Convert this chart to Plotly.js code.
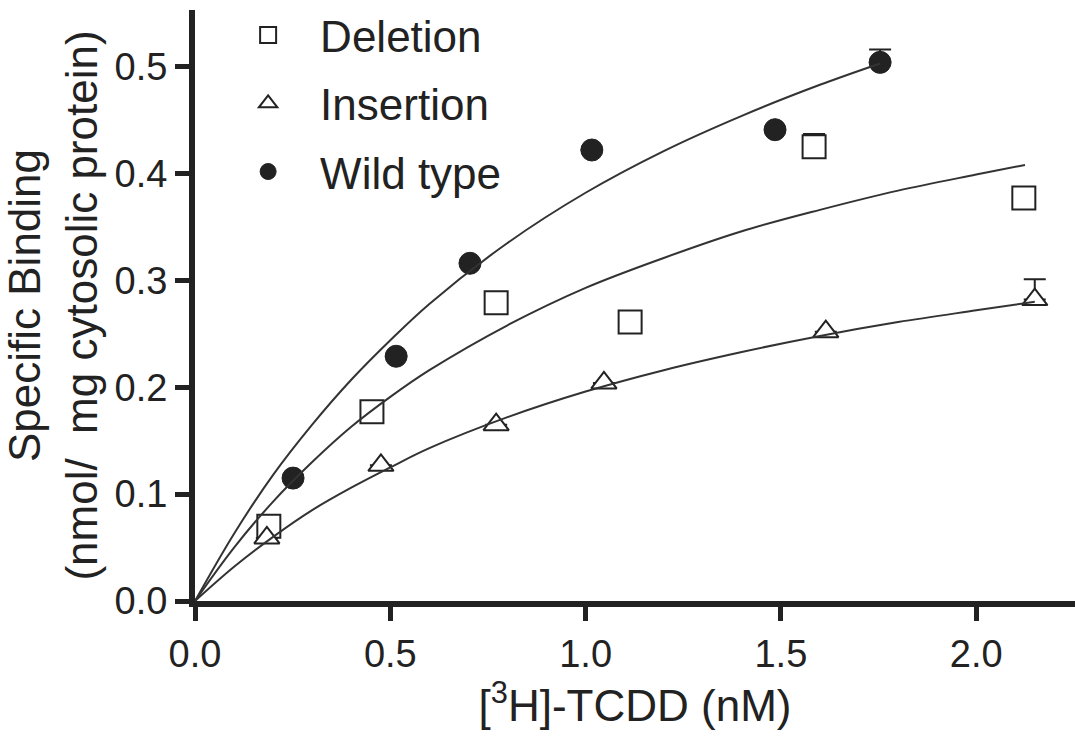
<!DOCTYPE html>
<html>
<head>
<meta charset="utf-8">
<script src="https://cdn.plot.ly/plotly-3.0.1.min.js"></script>
<style>html,body{margin:0;padding:0;background:#fff;}#chart{width:1075px;height:738px;}</style>
</head>
<body>
<div id="chart"></div>
<script>
// Measured data points
const delX = [0.189, 0.453, 0.771, 1.114, 1.585, 2.122];
const delY = [0.070, 0.177, 0.279, 0.261, 0.425, 0.377];
const delErr = [null, null, null, null, 0.012, null];

const insX = [0.184, 0.476, 0.771, 1.047, 1.615, 2.150];
const insY = [0.059, 0.127, 0.165, 0.204, 0.252, 0.282];
const insErr = [null, null, null, null, null, 0.019];

const wtX = [0.251, 0.515, 0.704, 1.016, 1.485, 1.754];
const wtY = [0.115, 0.229, 0.316, 0.422, 0.441, 0.504];
const wtErr = [null, null, null, null, null, 0.012];

// Fit curves
const wtFitX = [0, 0.1, 0.2, 0.3, 0.4, 0.5, 0.6, 0.8, 1.0, 1.2, 1.4, 1.6, 1.754];
const wtFitY = [0, 0.063, 0.118, 0.165, 0.207, 0.244, 0.278, 0.335, 0.382, 0.421, 0.454, 0.483, 0.503];

const delFitX = [0, 0.1, 0.2, 0.3, 0.4, 0.5, 0.6, 0.8, 1.0, 1.2, 1.4, 1.6, 1.8, 2.0, 2.125];
const delFitY = [0, 0.050, 0.093, 0.130, 0.163, 0.191, 0.216, 0.258, 0.293, 0.321, 0.346, 0.366, 0.384, 0.399, 0.408];

const insFitX = [0, 0.1, 0.2, 0.3, 0.4, 0.5, 0.6, 0.8, 1.0, 1.2, 1.4, 1.6, 1.8, 2.0, 2.15];
const insFitY = [0, 0.032, 0.060, 0.085, 0.106, 0.125, 0.143, 0.172, 0.196, 0.216, 0.233, 0.248, 0.261, 0.272, 0.280];

const xTicks = [0, 0.5, 1.0, 1.5, 2.0];
const xTickText = ["0.0", "0.5", "1.0", "1.5", "2.0"];
const yTicks = [0, 0.1, 0.2, 0.3, 0.4, 0.5];
const yTickText = ["0.0", "0.1", "0.2", "0.3", "0.4", "0.5"];

const names = ["Deletion", "Insertion", "Wild type"];

const ink = "#222222";
const font = "Liberation Sans, Arial, sans-serif";

function errObj(arr) {
  return {type: "data", symmetric: false, array: arr, arrayminus: arr.map(() => 0),
          color: ink, thickness: 2, width: 11, visible: true};
}

const traces = [
  {x: delX, y: delY, mode: "markers", name: names[0], legendgroup: "a",
   marker: {symbol: "square", size: 23, color: "#ffffff", line: {color: ink, width: 2}},
   error_y: errObj(delErr)},
  {x: insX, y: insY, mode: "markers", name: names[1], legendgroup: "b",
   marker: {symbol: "triangle-up", size: 22, color: "#ffffff", line: {color: ink, width: 2}},
   error_y: errObj(insErr)},
  {x: wtX, y: wtY, mode: "markers", name: names[2], legendgroup: "c",
   marker: {symbol: "circle", size: 22, color: ink, line: {color: ink, width: 1}},
   error_y: errObj(wtErr)},
  {x: wtFitX, y: wtFitY, mode: "lines", showlegend: false, hoverinfo: "skip",
   line: {color: "#333333", width: 2, shape: "spline"}},
  {x: delFitX, y: delFitY, mode: "lines", showlegend: false, hoverinfo: "skip",
   line: {color: "#333333", width: 2, shape: "spline"}},
  {x: insFitX, y: insFitY, mode: "lines", showlegend: false, hoverinfo: "skip",
   line: {color: "#333333", width: 2, shape: "spline"}}
];

const layout = {
  width: 1075, height: 738,
  margin: {l: 195, r: 0, t: 10, b: 137, autoexpand: false},
  paper_bgcolor: "#ffffff", plot_bgcolor: "#ffffff",
  font: {family: font, color: ink},
  showlegend: true,
  legend: {x: 0.024, y: 1.012, xanchor: "left", yanchor: "top", yref: "container",
           font: {size: 44, family: font, color: ink},
           bgcolor: "rgba(0,0,0,0)", tracegroupgap: 8, itemwidth: 94},
  xaxis: {
    range: [0, 2.253], tickvals: xTicks, ticktext: xTickText,
    showline: true, linewidth: 6, linecolor: ink, mirror: false,
    ticks: "outside", ticklen: 14, tickwidth: 5, tickcolor: ink,
    showgrid: false, zeroline: false,
    tickfont: {size: 38, family: font, color: ink},
    title: {text: "[<sup>3</sup>H]-TCDD (nM)", font: {size: 44, family: font, color: ink}, standoff: 10}
  },
  yaxis: {
    range: [0, 0.553], tickvals: yTicks, ticktext: yTickText,
    showline: true, linewidth: 6, linecolor: ink, mirror: false,
    ticks: "outside", ticklen: 14, tickwidth: 5, tickcolor: ink,
    showgrid: false, zeroline: false,
    tickfont: {size: 38, family: font, color: ink},
    title: {text: "Specific Binding<br>(nmol/  mg cytosolic protein)", font: {size: 44, family: font, color: ink}, standoff: 16}
  }
};

Plotly.newPlot("chart", traces, layout, {displayModeBar: false, staticPlot: true});
</script>
</body>
</html>
